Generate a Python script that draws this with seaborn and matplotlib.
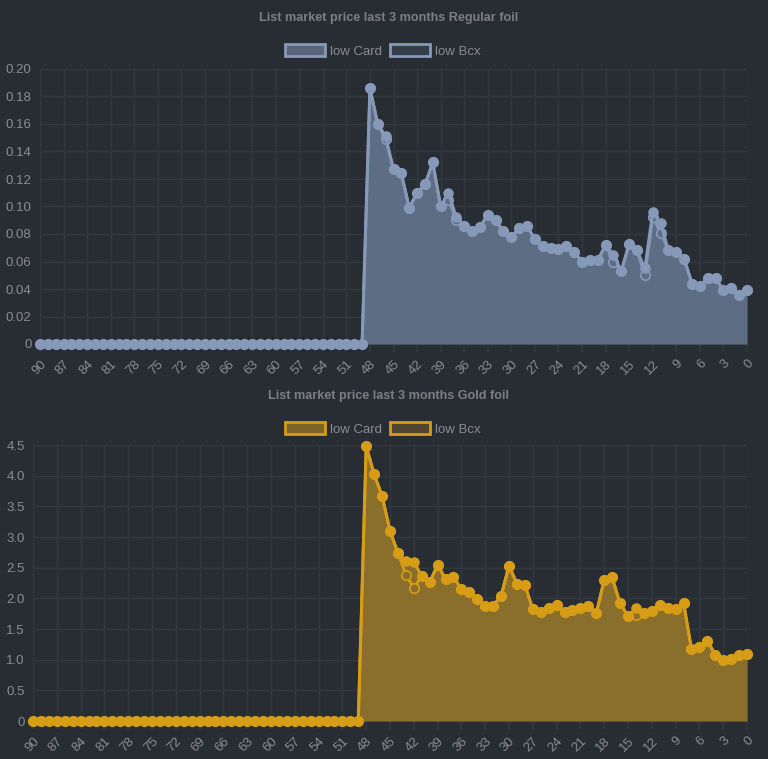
import matplotlib
matplotlib.use("Agg")
import matplotlib.pyplot as plt
from matplotlib.patches import Patch
import seaborn as sns
import pandas as pd

# days before today, 90 -> 0
days = list(range(90, -1, -1))
zeros = [0.0] * 42

regular_card = zeros + [
    0.186, 0.160, 0.151, 0.127, 0.124, 0.099, 0.110, 0.116, 0.132, 0.100,
    0.110, 0.092, 0.086, 0.082, 0.085, 0.094, 0.090, 0.082, 0.078, 0.084,
    0.086, 0.076, 0.071, 0.070, 0.069, 0.071, 0.067, 0.060, 0.061, 0.061,
    0.072, 0.065, 0.053, 0.073, 0.068, 0.055, 0.096, 0.088, 0.068, 0.067,
    0.062, 0.044, 0.042, 0.048, 0.048, 0.039, 0.041, 0.036, 0.039]
regular_bcx = zeros + [
    0.186, 0.160, 0.149, 0.127, 0.124, 0.099, 0.110, 0.116, 0.132, 0.100,
    0.105, 0.090, 0.086, 0.082, 0.085, 0.094, 0.090, 0.082, 0.078, 0.084,
    0.086, 0.076, 0.071, 0.070, 0.069, 0.071, 0.067, 0.060, 0.061, 0.061,
    0.072, 0.060, 0.053, 0.073, 0.068, 0.050, 0.092, 0.081, 0.068, 0.067,
    0.062, 0.044, 0.042, 0.048, 0.048, 0.039, 0.041, 0.036, 0.039]

gold_card = zeros + [
    4.48, 4.02, 3.67, 3.10, 2.74, 2.61, 2.60, 2.36, 2.26, 2.55,
    2.31, 2.35, 2.15, 2.11, 1.99, 1.88, 1.88, 2.04, 2.53, 2.24,
    2.22, 1.82, 1.78, 1.85, 1.89, 1.78, 1.81, 1.85, 1.875, 1.755,
    2.30, 2.34, 1.92, 1.71, 1.84, 1.755, 1.80, 1.89, 1.85, 1.82,
    1.93, 1.17, 1.21, 1.31, 1.08, 0.995, 1.005, 1.08, 1.10]
gold_bcx = zeros + [
    4.48, 4.02, 3.67, 3.10, 2.74, 2.38, 2.17, 2.36, 2.26, 2.55,
    2.31, 2.35, 2.15, 2.11, 1.99, 1.88, 1.88, 2.04, 2.53, 2.24,
    2.22, 1.82, 1.78, 1.85, 1.89, 1.78, 1.81, 1.85, 1.875, 1.755,
    2.30, 2.34, 1.92, 1.71, 1.73, 1.755, 1.80, 1.89, 1.85, 1.82,
    1.93, 1.17, 1.21, 1.31, 1.08, 0.995, 1.005, 1.08, 1.10]

x_ticks = list(range(90, -1, -3))
regular_yticks = [0, 0.02, 0.04, 0.06, 0.08, 0.10, 0.12, 0.14, 0.16, 0.18, 0.20]
regular_ylabels = ["0", "0.02", "0.04", "0.06", "0.08", "0.10", "0.12", "0.14", "0.16", "0.18", "0.20"]
gold_yticks = [0, 0.5, 1.0, 1.5, 2.0, 2.5, 3.0, 3.5, 4.0, 4.5]
gold_ylabels = ["0", "0.5", "1.0", "1.5", "2.0", "2.5", "3.0", "3.5", "4.0", "4.5"]

bg = "#272d33"
grid = "#313840"
tick_col = "#8a8d90"
title_col = "#7c7f82"

sns.set_theme(style="dark")
plt.rcParams["font.family"] = ["Liberation Sans", "DejaVu Sans"]

fig = plt.figure(figsize=(7.68, 7.59), dpi=100)
fig.patch.set_facecolor(bg)


def panel(rect, card, bcx, line_col, fill_col, bcx_fill, box_card, box_bcx,
          yticks, ylabels, ymax, title, title_y, legend_y):
    ax = fig.add_axes(rect)
    ax.set_facecolor(bg)
    df = pd.DataFrame({"day": days, "card": card, "bcx": bcx})

    ax.fill_between(df["day"], 0, df["bcx"], color=bcx_fill, lw=0, zorder=1)
    ax.fill_between(df["day"], 0, df["card"], color=fill_col, lw=0, zorder=2)
    sns.lineplot(data=df, x="day", y="bcx", ax=ax, color=line_col, lw=2.0,
                 marker="o", markersize=6.8, markerfacecolor=fill_col,
                 markeredgecolor=line_col, markeredgewidth=1.2, zorder=3, clip_on=False)
    sns.lineplot(data=df, x="day", y="card", ax=ax, color=line_col, lw=2.2,
                 marker="o", markersize=6.8, markerfacecolor=line_col,
                 markeredgecolor=line_col, zorder=4, clip_on=False)

    ax.set_xlim(90, 0)
    ax.set_ylim(0, ymax)
    ax.set_xticks(x_ticks)
    ax.set_xticklabels([str(t) for t in x_ticks], rotation=45, ha="right",
                       rotation_mode="anchor", color=tick_col, fontsize=9.5)
    ax.set_yticks(yticks)
    ax.set_yticklabels(ylabels, color=tick_col, fontsize=9.5)
    ax.set_xlabel("")
    ax.set_ylabel("")
    ax.grid(True, color=grid, lw=1)
    ax.tick_params(axis="x", length=6, color=grid, pad=4, bottom=True)
    ax.tick_params(axis="y", length=0, left=False, pad=6)
    for s in ax.spines.values():
        s.set_visible(False)

    fig.text(389 / 768, 1 - title_y / 759, title, ha="center", va="center",
             fontsize=9.1, fontweight="bold", color=title_col)
    handles = [Patch(facecolor=box_card, edgecolor=line_col, lw=2, label="low Card"),
               Patch(facecolor=box_bcx, edgecolor=line_col, lw=2, label="low Bcx")]
    fig.legend(handles=handles, loc="center", ncol=2,
               bbox_to_anchor=(383 / 768, 1 - legend_y / 759), frameon=False,
               fontsize=9.5, labelcolor=tick_col, handlelength=3.0, handleheight=1.0,
               columnspacing=0.6, handletextpad=0.4)
    return ax


panel([40 / 768, 1 - 344 / 759, 707 / 768, 275 / 759], regular_card, regular_bcx,
      "#8699b8", "#5d6e84", "#333d48", "#5a6678", "#343e48",
      regular_yticks, regular_ylabels, 0.20,
      "List market price last 3 months Regular foil", 18, 51)

panel([33 / 768, 1 - 721 / 759, 714 / 768, 276 / 759], gold_card, gold_bcx,
      "#d79d17", "#8a6e2b", "#4a4330", "#7d6428", "#4f4530",
      gold_yticks, gold_ylabels, 4.5,
      "List market price last 3 months Gold foil", 396, 429)

fig.savefig("out.png", dpi=100, facecolor=bg)
